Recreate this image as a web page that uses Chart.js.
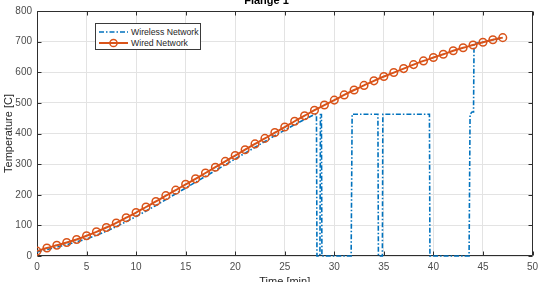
<!DOCTYPE html>
<html>
<head>
<meta charset="utf-8">
<script src="https://cdn.jsdelivr.net/npm/chart.js@4/dist/chart.umd.min.js"></script>
<style>
  html, body { margin: 0; padding: 0; background: #fff; }
  #wrap { position: relative; width: 538px; height: 282px; overflow: hidden; }
  canvas { display: block; }
  #legend {
    position: absolute; left: 95px; top: 23px; width: 104px; height: 25px;
    border: 1px solid #3a3a3a; background: #fff;
    font-family: 'Liberation Sans', Arial, sans-serif; font-size: 8.7px; color: #262626;
  }
  .row { position: absolute; left: 3px; height: 11px; display: flex; align-items: center; white-space: nowrap; }
  .row svg { display: block; margin-right: 3px; }
</style>
</head>
<body>
<div id="wrap">
  <canvas id="c" width="538" height="282"></canvas>
  <div id="legend"></div>
</div>
<script>
// ---- Data ----
const chartTitle = 'Flange 1';
const xAxisTitle = 'Time [min]';
const yAxisTitle = 'Temperature [C]';
const seriesNames = ['Wireless Network', 'Wired Network'];

const xTicks = [0, 5, 10, 15, 20, 25, 30, 35, 40, 45, 50];
const yTicks = [0, 100, 200, 300, 400, 500, 600, 700, 800];

const wiredTime = [0,1,2,3,4,5,6,7,8,9,10,11,12,13,14,15,16,17,18,19,20,21,22,23,24,25,26,27,28,29,30,31,32,33,34,35,36,37,38,39,40,41,42,43,44,45,46,47];
const wiredTemp = [16,26,35,44,54,66,79,93,108,125,142,160,178,197,215,234,252,271,290,309,328,347,366,384,403,421,440,458,476,493,509,526,542,557,572,586,599,612,625,637,648,659,670,680,689,698,706,713];

const wirelessTime = [0,1,2,3,4,5,6,7,8,9,10,11,12,13,14,15,16,17,18,19,20,21,22,23,24,25,26,27,28,28.2,28.25,28.55,28.6,28.7,28.75,31.7,31.8,34.4,34.45,34.85,34.9,39.6,39.65,43.6,43.7,43.9,44.05,44.1,45,46,47];
const wirelessTemp = [13,21,29,37,46,56,68,81,96,112,129,147,165,184,203,222,241,260,279,298,317,336,355,374,393,411,429,446,462,462,0,0,462,462,0,0,463,463,0,0,463,463,0,0,463,470,470,694,698,706,713];

// ---- Build ----
const toPts = (xs, ys) => xs.map((x, i) => ({ x: x, y: ys[i] }));
const BLUE = '#0072BD', ORANGE = '#D95319';
const FONT = "'Liberation Sans', Arial, sans-serif";

const boxPlugin = {
  id: 'matlabBox',
  beforeDatasetsDraw(chart) {
    const { ctx, chartArea: a, scales } = chart;
    ctx.save();
    ctx.strokeStyle = '#2e2e2e';
    ctx.lineWidth = 1;
    ctx.beginPath();
    const L = Math.round(a.left) + 0.5, R = Math.round(a.right) - 0.5;
    const T = Math.round(a.top) + 0.5, B = Math.round(a.bottom) - 0.5;
    ctx.rect(L, T, R - L, B - T);
    const tl = 4;
    xTicks.forEach(v => {
      const px = Math.round(scales.x.getPixelForValue(v)) + 0.5;
      ctx.moveTo(px, B); ctx.lineTo(px, B - tl);
      ctx.moveTo(px, T); ctx.lineTo(px, T + tl);
    });
    yTicks.forEach(v => {
      const py = Math.round(scales.y.getPixelForValue(v)) + 0.5;
      ctx.moveTo(L, py); ctx.lineTo(L + tl, py);
      ctx.moveTo(R, py); ctx.lineTo(R - tl, py);
    });
    ctx.stroke();
    ctx.restore();
  }
};

const chart = new Chart(document.getElementById('c'), {
  type: 'line',
  data: {
    datasets: [
      {
        label: seriesNames[1],
        data: toPts(wiredTime, wiredTemp),
        borderColor: ORANGE,
        backgroundColor: 'rgba(0,0,0,0)',
        borderWidth: 2,
        pointStyle: 'circle',
        pointRadius: 3.8,
        pointBorderWidth: 1.5,
        pointBorderColor: ORANGE,
        pointBackgroundColor: 'rgba(0,0,0,0)',
        tension: 0.3,
        order: 0
      },
      {
        label: seriesNames[0],
        data: toPts(wirelessTime, wirelessTemp),
        borderColor: BLUE,
        backgroundColor: 'rgba(0,0,0,0)',
        borderWidth: 1.6,
        borderDash: [5, 2, 1.5, 2],
        pointRadius: 0,
        tension: 0,
        clip: 3,
        order: 1
      }
    ]
  },
  options: {
    responsive: false,
    animation: false,
    devicePixelRatio: 1,
    layout: { padding: { left: 0, right: 5, top: 0, bottom: 0 } },
    plugins: {
      legend: { display: false },
      tooltip: { enabled: false },
      title: {
        display: true,
        text: chartTitle,
        color: '#000',
        font: { family: FONT, size: 11, weight: 'bold', lineHeight: 1 },
        padding: { top: -5, bottom: 5 }
      }
    },
    scales: {
      x: {
        type: 'linear',
        min: 0, max: 50,
        afterBuildTicks: s => { s.ticks = xTicks.map(v => ({ value: v })); },
        afterFit: s => { s.height = 26; s.paddingLeft = 0; s.paddingRight = 0; },
        grid: { color: '#e3e3e3', drawTicks: false, lineWidth: 1 },
        border: { display: false },
        ticks: { color: '#4d4d4d', font: { family: FONT, size: 10 }, padding: 5, maxRotation: 0 },
        title: {
          display: true, text: xAxisTitle, color: '#262626',
          font: { family: FONT, size: 11, lineHeight: 1.2 },
          padding: { top: 0, bottom: -7 }
        }
      },
      y: {
        type: 'linear',
        min: 0, max: 800,
        afterBuildTicks: s => { s.ticks = yTicks.map(v => ({ value: v })); },
        afterFit: s => { s.width = 37; s.paddingTop = 0; s.paddingBottom = 0; },
        grid: { color: '#e3e3e3', drawTicks: false, lineWidth: 1 },
        border: { display: false },
        ticks: { color: '#4d4d4d', font: { family: FONT, size: 10 }, padding: 5 },
        title: {
          display: true, text: yAxisTitle, color: '#262626',
          font: { family: FONT, size: 11, lineHeight: 1.2 },
          padding: { top: 2, bottom: 0 }
        }
      }
    }
  },
  plugins: [boxPlugin]
});

// ---- HTML legend built from the dataset names ----
const legend = document.getElementById('legend');
const samples = [
  '<svg width="29" height="10"><line x1="0" y1="5" x2="29" y2="5" stroke="' + BLUE + '" stroke-width="1.6" stroke-dasharray="5 2 1.5 2"/></svg>',
  '<svg width="29" height="10"><line x1="0" y1="5" x2="29" y2="5" stroke="' + ORANGE + '" stroke-width="2"/><circle cx="14.5" cy="5" r="3.6" fill="none" stroke="' + ORANGE + '" stroke-width="1.5"/></svg>'
];
seriesNames.forEach((name, i) => {
  const row = document.createElement('div');
  row.className = 'row';
  row.style.top = (2 + i * 11) + 'px';
  row.innerHTML = samples[i] + '<span>' + name + '</span>';
  legend.appendChild(row);
});
</script>
</body>
</html>
